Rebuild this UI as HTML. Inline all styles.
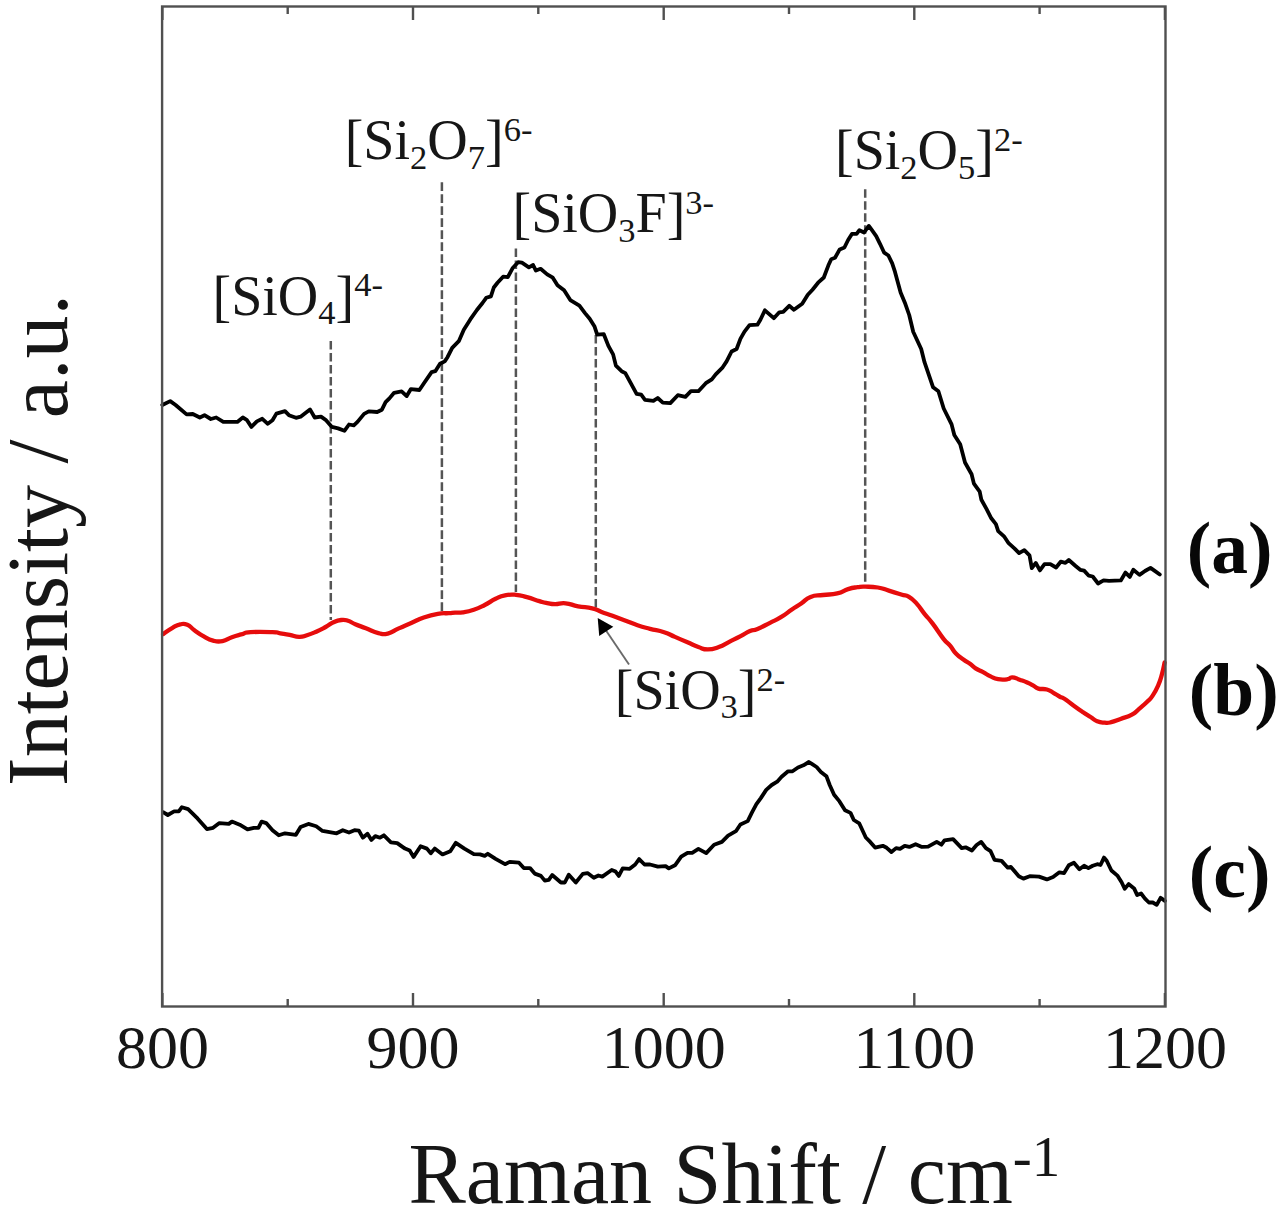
<!DOCTYPE html>
<html><head><meta charset="utf-8"><style>
html,body{margin:0;padding:0;background:#fff;}
body{width:1280px;height:1209px;overflow:hidden;}
svg{display:block;}
text{font-family:"Liberation Serif",serif;fill:#161616;}
text.lb{fill:#080808;}
</style></head><body>
<svg width="1280" height="1209" viewBox="0 0 1280 1209">
<rect x="0" y="0" width="1280" height="1209" fill="#fff"/>
<g stroke="#555" stroke-width="2.5" stroke-dasharray="8.6 3.4"><line x1="330.8" y1="340.9" x2="330.8" y2="620.0"/><line x1="441.9" y1="182.3" x2="441.9" y2="611.0"/><line x1="515.9" y1="248.5" x2="515.9" y2="592.0"/><line x1="595.8" y1="335.0" x2="595.8" y2="608.0"/><line x1="865.2" y1="189.2" x2="865.2" y2="588.0"/></g>
<g fill="none" stroke-linejoin="round" stroke-linecap="round">
<path d="M162.3 405.0L170.2 401.1L175.6 405.0L186.6 414.4L192.8 414.0L199.8 417.5L204.5 415.2L210.8 419.0L216.2 417.5L223.3 421.9L237.3 421.9L242.8 417.5L246.7 419.8L251.4 426.9L256.9 421.4L262.3 418.8L267.8 423.8L272.5 420.3L276.4 413.6L285.0 411.2L288.9 415.2L296.0 417.8L300.6 416.7L310.0 409.4L314.7 417.5L321.0 416.7L325.6 419.8L331.9 426.9L338.1 428.4L344.4 430.8L349.0 424.5L353.8 425.3L357.5 421.9L364.1 413.9L368.8 411.4L377.2 412.0L381.9 409.7L385.6 402.2L389.4 398.4L394.1 392.8L401.6 391.4L406.7 396.1L410.9 389.1L419.4 390.0L424.1 383.0L431.6 372.2L435.3 371.2L440.0 363.8L444.7 361.4L447.5 357.2L452.2 347.8L458.8 341.2L463.8 329.7L470.3 319.4L476.9 310.0L482.5 303.0L486.2 297.8L490.9 296.4L493.8 287.5L497.5 282.8L503.1 276.7L507.8 277.2L512.5 268.3L518.1 262.2L521.9 262.7L528.9 267.3L533.1 265.0L535.9 270.6L540.6 268.8L547.2 274.4L552.8 277.7L557.5 285.2L564.1 290.3L570.3 300.1L579.4 305.6L585.0 313.1L589.7 318.8L594.4 326.2L597.2 334.7L603.8 334.2L608.4 345.9L613.1 354.4L615.9 365.6L621.6 371.2L625.3 373.1L630.9 383.4L636.6 393.8L641.2 394.7L645.0 399.8L653.4 400.8L657.7 398.0L662.8 402.7L670.3 403.1L677.8 395.2L685.4 396.8L690.9 391.2L698.4 391.2L705.8 383.2L711.8 379.3L715.7 374.3L722.7 367.3L726.6 361.4L731.6 351.5L736.6 349.0L740.5 338.6L744.5 331.6L749.5 325.2L757.4 324.7L760.4 319.7L764.9 310.3L773.8 318.2L779.3 312.3L783.2 311.8L789.2 305.8L793.9 309.8L802.2 303.8L807.8 294.8L812.5 289.7L818.1 282.7L823.8 277.5L828.4 265.3L831.2 259.2L835.0 257.8L839.7 249.4L844.4 247.5L848.1 240.0L851.9 233.9L856.6 233.9L859.4 230.2L864.1 232.5L868.8 225.9L871.6 229.7L876.2 236.2L880.0 243.8L884.2 252.7L888.4 255.5L892.2 263.4L895.0 271.9L897.8 282.2L900.6 292.5L905.3 303.8L909.2 315.0L913.2 331.8L921.2 349.0L924.5 362.2L933.1 387.3L938.4 391.3L943.7 408.5L951.6 424.4L954.3 435.0L960.2 444.3L965.0 462.5L971.6 474.3L973.9 483.6L979.7 491.7L981.4 499.8L986.6 509.1L991.3 518.3L995.9 524.1L998.2 531.1L1004.0 536.3L1008.6 543.2L1014.4 548.4L1019.1 553.1L1024.3 550.2L1029.5 555.4L1031.8 568.1L1035.8 562.9L1039.9 570.4L1044.5 564.1L1050.3 564.1L1056.1 567.5L1060.7 561.7L1065.4 562.9L1068.8 560.0L1075.6 566.0L1080.2 569.8L1084.1 570.6L1088.8 575.7L1092.7 576.5L1098.1 583.5L1103.6 580.4L1109.0 580.8L1120.8 580.4L1125.5 572.6L1129.8 576.9L1133.3 569.8L1139.5 574.9L1145.0 571.0L1150.5 567.9L1154.4 570.6L1159.8 574.5" stroke="#000" stroke-width="3.8"/>
<path d="M163.1 812.2L167.8 815.0L174.1 811.4L178.8 811.4L181.9 807.2L188.1 809.1L197.5 818.4L206.9 829.1L213.1 827.8L219.4 823.1L228.8 823.9L231.9 821.6L239.7 824.7L247.5 829.4L253.8 827.8L258.4 827.8L261.6 821.6L266.2 823.1L272.5 830.2L278.8 835.3L285.0 833.3L295.9 834.8L300.6 827.0L308.4 823.9L316.2 826.2L322.5 830.9L336.6 833.3L342.8 830.2L349.0 832.5L354.5 830.2L358.9 830.6L362.8 837.7L367.5 833.8L371.4 840.0L375.3 836.1L380.0 837.7L383.9 835.3L390.9 842.3L397.2 843.1L405.0 848.6L409.7 850.6L413.6 856.9L420.6 846.2L426.9 848.6L430.8 853.3L434.7 848.6L442.5 854.4L450.3 851.2L455.8 842.8L464.4 848.6L473.8 854.1L480.0 854.4L484.7 855.9L487.8 853.8L495.6 858.8L505.0 864.2L509.7 861.9L519.0 862.7L523.8 868.1L530.0 868.1L534.7 873.6L540.9 875.9L544.8 880.6L548.8 879.8L552.2 875.0L560.9 882.5L564.8 882.5L568.8 874.7L575.8 882.5L582.8 873.9L587.5 873.1L593.8 877.8L598.4 875.5L602.3 876.6L611.7 870.0L615.6 871.6L618.8 875.9L622.7 868.4L629.7 868.8L635.2 864.5L639.1 859.1L644.5 864.5L650.0 864.5L657.8 866.6L665.6 866.1L668.8 868.4L675.0 865.3L681.2 856.7L687.5 852.8L692.2 852.8L698.4 848.9L706.2 853.1L714.1 844.7L721.9 841.9L728.1 835.6L735.9 831.2L740.4 824.5L747.7 821.1L752.0 812.3L756.4 804.1L760.8 798.1L766.2 789.9L771.7 785.0L777.2 781.7L781.6 776.8L788.1 771.3L792.5 771.3L798.0 767.5L803.4 765.3L808.9 762.0L812.2 764.2L816.6 767.0L820.9 771.9L826.4 776.2L829.7 785.0L834.1 794.8L839.5 801.4L845.0 810.2L850.5 812.9L853.8 820.0L859.2 823.3L865.8 837.5L870.2 841.9L875.1 847.6L882.8 845.8L886.7 847.8L891.4 852.0L896.1 848.1L900.0 848.9L904.7 845.8L909.4 846.9L915.6 844.2L921.9 846.9L928.1 846.6L936.7 841.9L941.4 844.7L944.5 840.3L953.1 839.1L961.7 848.1L965.6 847.3L971.9 850.5L976.6 845.0L981.2 841.9L985.9 848.1L990.6 851.2L994.5 859.8L1001.6 860.9L1007.8 867.7L1010.9 866.9L1018.8 876.2L1023.4 878.6L1029.7 876.2L1039.0 876.6L1046.9 879.4L1053.1 877.0L1059.4 872.3L1064.1 873.1L1068.8 865.3L1073.9 862.7L1079.4 869.3L1084.1 865.8L1088.4 868.1L1092.7 865.8L1097.3 864.2L1100.5 865.0L1104.0 857.6L1106.7 860.7L1111.4 870.5L1117.7 875.9L1121.6 882.2L1124.7 888.8L1128.6 884.1L1134.1 888.4L1137.2 895.1L1141.1 893.5L1145.0 898.6L1148.9 902.5L1152.8 902.5L1156.7 904.8L1160.6 897.8L1164.9 900.9" stroke="#000" stroke-width="3.8"/>
<path d="M163.1 634.1C165.6 632.4 167.9 630.4 172.5 627.8C177.1 625.2 176.4 625.2 180.3 624.4C184.2 623.6 183.5 623.2 187.3 624.7C191.1 626.2 190.0 627.1 194.4 630.2C198.8 633.3 198.8 633.6 203.8 636.4C208.7 639.2 208.1 639.3 213.1 640.6C218.1 641.9 217.5 642.0 222.5 641.1C227.5 640.2 226.9 639.0 231.9 637.2C236.9 635.4 236.3 635.7 241.2 634.4C246.2 633.1 242.3 632.8 250.6 632.2C258.9 631.6 264.6 631.9 272.5 632.2C280.4 632.5 275.7 632.6 280.3 633.3C284.9 634.0 284.7 633.8 289.7 634.8C294.7 635.8 294.5 636.8 299.1 636.9C303.7 637.0 302.3 636.7 306.9 635.3C311.5 633.9 311.3 633.9 316.2 631.7C321.2 629.5 321.0 629.5 325.6 627.0C330.2 624.5 329.2 624.2 333.4 622.3C337.6 620.4 337.4 620.4 341.2 620.0C345.1 619.6 344.3 619.7 348.0 620.8C351.7 621.9 350.5 622.2 355.3 624.2C360.1 626.2 359.7 625.9 365.9 628.3C372.1 630.7 372.6 631.7 378.4 633.1C384.2 634.5 382.4 634.9 387.8 633.6C393.2 632.3 392.5 631.2 398.8 628.4C405.0 625.6 404.6 625.9 411.2 623.0C417.9 620.1 416.7 620.0 423.8 617.5C430.8 615.0 431.1 614.9 437.8 613.8C444.5 612.7 444.2 613.5 448.8 613.2C453.3 612.9 451.3 612.8 455.0 612.6C458.7 612.4 457.8 613.1 462.8 612.3C467.8 611.5 467.9 611.6 473.8 609.7C479.6 607.8 478.9 607.9 484.7 605.0C490.5 602.1 490.2 601.3 495.6 598.8C501.0 596.2 499.6 596.4 505.0 595.3C510.4 594.2 510.1 594.3 515.9 594.8C521.7 595.3 520.6 595.5 526.9 597.2C533.2 598.9 534.0 599.5 539.4 601.1C544.8 602.7 543.0 602.3 547.2 603.1C551.4 603.9 550.1 604.1 555.0 604.2C559.9 604.3 559.4 602.7 565.6 603.3C571.8 603.9 571.0 605.0 578.1 606.3C585.2 607.6 585.9 606.8 592.2 608.3C598.5 609.8 596.2 610.0 601.6 612.0C607.0 614.0 606.3 613.5 612.5 615.8C618.7 618.1 618.3 618.0 625.0 620.5C631.7 623.0 630.8 623.0 637.5 625.2C644.2 627.4 642.9 626.9 650.0 628.8C657.1 630.6 657.4 630.0 664.1 632.2C670.8 634.4 668.8 634.2 675.0 636.9C681.2 639.6 681.3 639.6 687.5 642.3C693.7 645.0 693.0 645.1 698.4 647.0C703.8 648.9 702.4 649.4 707.8 649.4C713.2 649.4 712.9 649.1 718.8 647.0C724.6 644.9 723.9 644.5 729.7 641.6C735.5 638.7 735.2 638.9 740.6 636.1C746.0 633.3 745.5 632.9 750.0 631.0C754.5 629.1 752.2 631.2 757.5 629.0C762.8 626.8 763.8 625.9 770.0 622.8C776.2 619.7 775.1 620.7 780.9 617.2C786.7 613.7 786.5 613.2 791.9 609.5C797.3 605.8 796.3 606.9 801.2 603.5C806.2 600.1 804.8 599.2 810.6 596.9C816.4 594.6 816.0 595.9 823.1 595.0C830.2 594.1 830.5 595.0 837.2 593.4C843.9 591.8 842.7 590.8 848.1 589.1C853.5 587.4 852.9 587.8 857.5 587.2C862.1 586.6 859.9 586.6 865.3 586.7C870.7 586.8 871.5 586.5 877.8 587.5C884.1 588.5 882.5 588.7 888.8 590.6C895.0 592.5 895.9 592.8 901.2 594.5C906.6 596.2 904.8 594.4 909.0 596.9C913.2 599.4 912.7 599.3 916.9 603.9C921.1 608.5 920.5 608.9 924.7 614.1C928.9 619.3 927.5 616.8 932.5 623.4C937.5 630.0 938.8 632.8 943.5 638.8C948.2 644.8 947.0 642.0 950.3 645.9C953.6 649.8 952.4 649.8 955.9 653.4C959.4 657.0 959.6 656.7 963.4 659.5C967.2 662.3 966.7 661.4 970.0 663.8C973.3 666.1 972.1 666.1 975.6 668.4C979.1 670.7 979.1 670.1 983.1 672.2C987.1 674.3 986.6 674.5 990.6 676.4C994.6 678.3 993.6 678.5 998.1 679.2C1002.6 679.9 1003.7 679.7 1007.5 679.2C1011.3 678.7 1008.9 677.2 1012.2 677.3C1015.5 677.4 1015.7 678.3 1019.7 679.7C1023.7 681.1 1023.5 680.9 1027.2 682.5C1030.9 684.1 1030.8 684.2 1033.8 685.8C1036.7 687.4 1034.9 687.6 1038.4 688.6C1041.9 689.6 1042.9 688.4 1046.9 689.5C1050.9 690.6 1050.0 690.9 1053.4 692.8C1056.8 694.7 1056.6 694.9 1059.5 696.5C1062.4 698.1 1060.6 696.3 1064.4 698.8C1068.2 701.2 1068.8 702.2 1073.8 705.8C1078.7 709.4 1078.6 709.3 1083.1 712.3C1087.6 715.3 1086.8 714.6 1090.6 717.0C1094.4 719.4 1093.4 719.7 1097.2 721.2C1101.0 722.8 1101.0 722.4 1104.7 722.7C1108.4 723.0 1107.0 723.2 1111.2 722.2C1115.5 721.2 1115.1 720.9 1120.6 718.9C1126.1 716.9 1126.9 717.4 1131.9 714.7C1136.9 712.0 1135.4 712.0 1139.4 708.6C1143.4 705.2 1143.4 705.4 1146.9 702.0C1150.4 698.6 1149.5 700.3 1152.5 695.9C1155.5 691.5 1155.6 691.3 1158.1 685.6C1160.6 679.9 1160.2 680.6 1161.9 674.4C1163.6 668.2 1163.9 665.7 1164.6 662.5" stroke="#e60c0c" stroke-width="4.3"/>
</g>
<rect x="162.1" y="6.5" width="1003.4" height="1000.0" fill="none" stroke="#505050" stroke-width="2.4"/>
<g stroke="#505050" stroke-width="2.4"><line x1="162.4" y1="1006.5" x2="162.4" y2="993.0"/><line x1="162.4" y1="6.5" x2="162.4" y2="20.0"/><line x1="287.7" y1="1006.5" x2="287.7" y2="999.0"/><line x1="287.7" y1="6.5" x2="287.7" y2="14.0"/><line x1="413.0" y1="1006.5" x2="413.0" y2="993.0"/><line x1="413.0" y1="6.5" x2="413.0" y2="20.0"/><line x1="538.3" y1="1006.5" x2="538.3" y2="999.0"/><line x1="538.3" y1="6.5" x2="538.3" y2="14.0"/><line x1="663.7" y1="1006.5" x2="663.7" y2="993.0"/><line x1="663.7" y1="6.5" x2="663.7" y2="20.0"/><line x1="789.0" y1="1006.5" x2="789.0" y2="999.0"/><line x1="789.0" y1="6.5" x2="789.0" y2="14.0"/><line x1="914.3" y1="1006.5" x2="914.3" y2="993.0"/><line x1="914.3" y1="6.5" x2="914.3" y2="20.0"/><line x1="1039.6" y1="1006.5" x2="1039.6" y2="999.0"/><line x1="1039.6" y1="6.5" x2="1039.6" y2="14.0"/><line x1="1164.9" y1="1006.5" x2="1164.9" y2="993.0"/><line x1="1164.9" y1="6.5" x2="1164.9" y2="20.0"/></g>
<g font-size="62"><text x="162.4" y="1067.5" text-anchor="middle">800</text><text x="413.0" y="1067.5" text-anchor="middle">900</text><text x="663.7" y="1067.5" text-anchor="middle">1000</text><text x="914.3" y="1067.5" text-anchor="middle">1100</text><text x="1164.9" y="1067.5" text-anchor="middle">1200</text></g>
<text x="408.5" y="1202.5" font-size="86">Raman Shift / cm<tspan font-size="57" dy="-27">-1</tspan></text>
<text transform="translate(66.8 786) rotate(-90)" font-size="86">Intensity / a.u.</text>
<g font-size="56">
<text x="212.5" y="314.5">[SiO<tspan font-size="34.5" dy="9.4">4</tspan><tspan dy="-9.4">]</tspan><tspan font-size="34.5" dy="-18.3">4-</tspan></text>
<text x="344.7" y="159.3">[Si<tspan font-size="34.5" dy="9.4">2</tspan><tspan dy="-9.4">O</tspan><tspan font-size="34.5" dy="9.4">7</tspan><tspan dy="-9.4">]</tspan><tspan font-size="34.5" dy="-18.3">6-</tspan></text>
<text x="512.5" y="232.3">[SiO<tspan font-size="34.5" dy="9.4">3</tspan><tspan dy="-9.4">F]</tspan><tspan font-size="34.5" dy="-18.3">3-</tspan></text>
<text x="835" y="169.3">[Si<tspan font-size="34.5" dy="9.4">2</tspan><tspan dy="-9.4">O</tspan><tspan font-size="34.5" dy="9.4">5</tspan><tspan dy="-9.4">]</tspan><tspan font-size="34.5" dy="-18.3">2-</tspan></text>
<text x="614.8" y="709">[SiO<tspan font-size="34.5" dy="9.4">3</tspan><tspan dy="-9.4">]</tspan><tspan font-size="34.5" dy="-18.3">2-</tspan></text>
</g>
<line x1="629" y1="664.5" x2="605" y2="629" stroke="#6a6a6a" stroke-width="1.9"/>
<polygon points="597.7,618.1 599.2,636.1 613.3,626.7" fill="#000"/>
<g font-size="73.5" font-weight="bold">
<text class="lb" x="1186.8" y="572.8">(a)</text>
<text class="lb" x="1188.8" y="715">(b)</text>
<text class="lb" x="1188.8" y="897.2">(c)</text>
</g>
</svg>
</body></html>
